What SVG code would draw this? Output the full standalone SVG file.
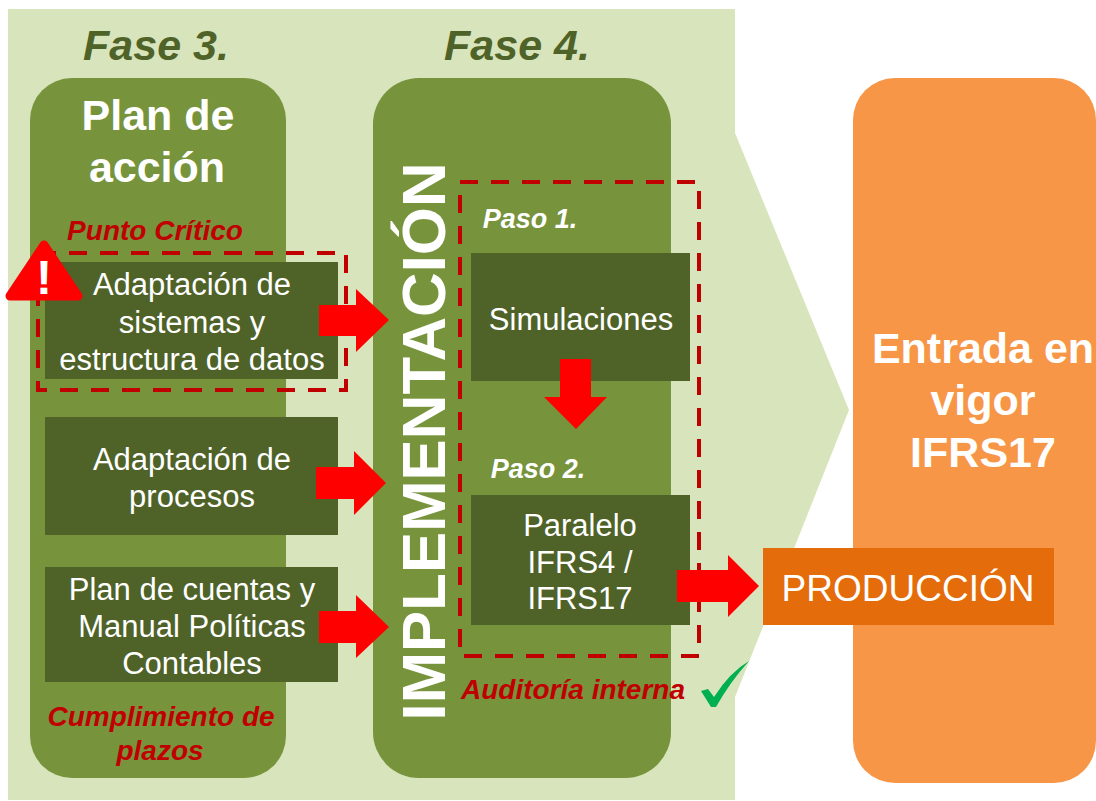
<svg xmlns="http://www.w3.org/2000/svg" width="1096" height="801" viewBox="0 0 1096 801">
<style>
text{font-family:"Liberation Sans",Arial,sans-serif}
.w{fill:#fff;font-size:31px;text-anchor:middle}
.b{fill:#fff;font-weight:bold;text-anchor:middle}
.h{fill:#4f6228;font-size:43px;font-weight:bold;font-style:italic;text-anchor:middle}
.r{fill:#c00000;font-size:28px;font-weight:bold;font-style:italic;text-anchor:middle}
.p{fill:#fff;font-size:27px;font-weight:bold;font-style:italic;text-anchor:middle}
.box{fill:#4f6228}
.col{fill:#77933c}
.dash{fill:none;stroke:#c00000;stroke-width:4;stroke-dasharray:18 13}
.arr{fill:#f00}
</style>
<rect width="1096" height="801" fill="#fff"/>
<polygon id="background" points="8,9 735,9 735,133 849,410 735,697 735,800 8,800" fill="#d8e4bc"/>
<g id="fase3">
<text class="h" x="156" y="60">Fase 3.</text>
<rect class="col" x="30" y="78" width="256" height="700" rx="42"/>
<text class="b" x="158" y="130" font-size="43">Plan de</text>
<text class="b" x="157" y="182" font-size="43">acción</text>
</g>
<g id="fase4">
<text class="h" x="517" y="60">Fase 4.</text>
<rect class="col" x="373" y="78" width="298" height="700" rx="46"/>
<text class="b" transform="translate(445,441.5) rotate(-90)" font-size="62" textLength="558" lengthAdjust="spacingAndGlyphs">IMPLEMENTACIÓN</text>
</g>
<g id="produccion-fondo">
<rect x="853" y="78" width="243" height="705" rx="42" fill="#f79646"/>
<text class="b" x="983" y="363" font-size="43">Entrada en</text>
<text class="b" x="983" y="415" font-size="43">vigor</text>
<text class="b" x="983" y="467" font-size="43">IFRS17</text>
</g>
<g id="punto-critico">
<text class="r" x="155" y="240">Punto Crítico</text>
<rect class="box" x="45" y="262" width="293" height="117"/>
<text class="w" x="192" y="295">Adaptación de</text>
<text class="w" x="192" y="333">sistemas y</text>
<text class="w" x="192" y="370">estructura de datos</text>
<rect class="dash" x="38" y="253" width="308" height="137"/>
<path d="M44,245 L78,296 L10,296 Z" fill="#f00" stroke="#f00" stroke-width="9" stroke-linejoin="round"/>
<text x="44" y="294" fill="#fff" font-size="48" font-weight="bold" text-anchor="middle">!</text>
</g>
<g id="procesos">
<rect class="box" x="45" y="417" width="293" height="118"/>
<text class="w" x="192" y="470">Adaptación de</text>
<text class="w" x="192" y="507">procesos</text>
</g>
<g id="cuentas">
<rect class="box" x="45" y="567" width="293" height="115"/>
<text class="w" x="192" y="600">Plan de cuentas y</text>
<text class="w" x="192" y="637">Manual Políticas</text>
<text class="w" x="192" y="674">Contables</text>
</g>
<g id="plazos">
<text class="r" x="161" y="726">Cumplimiento de</text>
<text class="r" x="160" y="760">plazos</text>
</g>
<g id="pasos">
<rect class="box" x="471" y="253" width="219" height="128"/>
<text class="w" x="581" y="330">Simulaciones</text>
<text class="p" x="530" y="228">Paso 1.</text>
<text class="p" x="538" y="478">Paso 2.</text>
<rect class="box" x="471" y="495" width="219" height="130"/>
<text class="w" x="580" y="536">Paralelo</text>
<text class="w" x="580" y="573">IFRS4 /</text>
<text class="w" x="580" y="609">IFRS17</text>
<rect class="dash" x="460" y="182" width="239" height="474"/>
</g>
<g id="produccion">
<rect x="763" y="548" width="291" height="77" fill="#e46c0a"/>
<text x="908" y="601" fill="#fff" font-size="37" text-anchor="middle">PRODUCCIÓN</text>
</g>
<g id="auditoria">
<text class="r" x="573" y="699">Auditoría interna</text>
<path d="M701,691 L708,689 L714,697 Q730,672 749,661 Q730,682 716,707 L711,707 Z" fill="#00b050"/>
</g>
<g id="connectors">
<polygon class="arr" points="319,305 356,305 356,289 389,320 356,352 356,336 319,336"/>
<polygon class="arr" points="316,467 354,467 354,451 386,483 354,515 354,499 316,499"/>
<polygon class="arr" points="319,611 356,611 356,595 389,627 356,658 356,643 319,643"/>
<polygon class="arr" points="560,359 591,359 591,397 607,397 576,429 544,397 560,397"/>
<polygon class="arr" points="677,570 728,570 728,555 759,586 728,617 728,602 677,602"/>
</g>
</svg>
